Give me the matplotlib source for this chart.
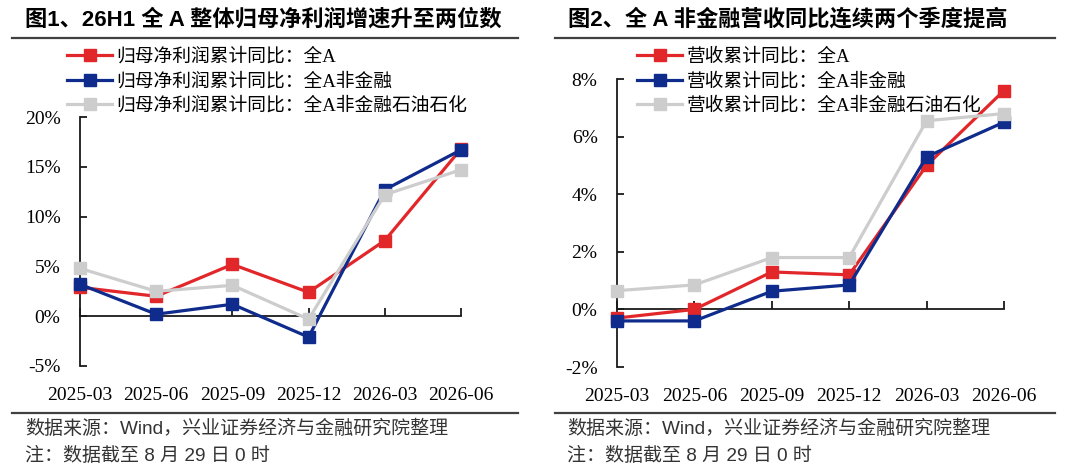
import matplotlib
matplotlib.use('Agg')
import matplotlib.pyplot as plt
from matplotlib.lines import Line2D

plt.rcParams['font.family'] = ['Liberation Serif', 'Noto Sans CJK SC']

W, H = 1080, 476

quarters = ['2025-03', '2025-06', '2025-09', '2025-12', '2026-03', '2026-06']

# 图1 归母净利润累计同比 (%)
profit_all = [2.9, 2.0, 5.2, 2.4, 7.6, 16.8]
profit_nonfin = [3.2, 0.2, 1.2, -2.1, 12.7, 16.7]
profit_nonfin_ex_oil = [4.8, 2.5, 3.1, -0.3, 12.2, 14.7]
profit_labels = ['归母净利润累计同比：全A', '归母净利润累计同比：全A非金融',
                 '归母净利润累计同比：全A非金融石油石化']

# 图2 营收累计同比 (%)
rev_all = [-0.3, 0.0, 1.3, 1.2, 5.0, 7.6]
rev_nonfin = [-0.4, -0.4, 0.63, 0.85, 5.3, 6.5]
rev_nonfin_ex_oil = [0.65, 0.85, 1.8, 1.8, 6.55, 6.8]
rev_labels = ['营收累计同比：全A', '营收累计同比：全A非金融', '营收累计同比：全A非金融石油石化']

colors = ['#E2272B', '#0F2B8C', '#CDCDCD']
sans = ['Liberation Sans', 'Noto Sans CJK SC']
serif_cjk = ['Liberation Serif', 'Noto Sans CJK SC']

fig = plt.figure(figsize=(W / 100, H / 100), dpi=100)


def px_rect(x0, x1, y_top, y_bot):
    return [x0 / W, 1 - y_bot / H, (x1 - x0) / W, (y_bot - y_top) / H]


def draw_panel(rect, series, labels, yticks, leg_xy):
    ax = fig.add_axes(rect)
    x = list(range(len(quarters)))
    for vals, lab, c in zip(series, labels, colors):
        ax.plot(x, vals, color=c, lw=2.3, marker='s', markersize=8,
                label=lab, clip_on=False, zorder=3)
    ax.set_xlim(0, len(quarters) - 1)
    ax.set_ylim(yticks[0], yticks[-1])
    ax.set_yticks(yticks)
    ax.set_yticklabels([f'{v}%' for v in yticks])
    for s in ['top', 'right']:
        ax.spines[s].set_visible(False)
    ax.spines['bottom'].set_position(('data', 0))
    for s in ['left', 'bottom']:
        ax.spines[s].set_linewidth(1.3)
        ax.spines[s].set_color('#1a1a1a')
    ax.set_xticks(x)
    ax.tick_params(axis='x', direction='in', length=6, width=1.3,
                   color='#1a1a1a', labelbottom=False)
    ax.tick_params(axis='y', direction='in', length=5, width=1.3,
                   color='#1a1a1a', labelsize=14, pad=14)
    sec = ax.secondary_xaxis('bottom')
    sec.spines['bottom'].set_visible(False)
    sec.set_xticks(x)
    sec.set_xticklabels(quarters)
    sec.tick_params(length=0, labelsize=14, pad=15)
    ax.legend(loc='upper left', bbox_to_anchor=leg_xy, bbox_transform=fig.transFigure,
              frameon=False, prop={'family': serif_cjk, 'size': 13.5},
              handlelength=2.4, handletextpad=0.25, labelspacing=0.38,
              borderpad=0, borderaxespad=0)
    return ax


draw_panel(px_rect(80, 461, 117, 366),
           [profit_all, profit_nonfin, profit_nonfin_ex_oil], profit_labels,
           [-5, 0, 5, 10, 15, 20], (67 / W, 1 - 48 / H))
draw_panel(px_rect(617, 1004, 79, 367),
           [rev_all, rev_nonfin, rev_nonfin_ex_oil], rev_labels,
           [-2, 0, 2, 4, 6, 8], (637 / W, 1 - 48 / H))

titles = [(25, '图1、26H1 全 A 整体归母净利润增速升至两位数'),
          (568, '图2、全 A 非金融营收同比连续两个季度提高')]
for x0, t in titles:
    fig.text(x0 / W, 1 - 20 / H, t, fontsize=16, fontweight='bold',
             family=sans, va='center', ha='left')

for x0, x1 in [(12, 518), (555, 1055)]:
    for yy in (38, 413):
        fig.add_artist(Line2D([x0 / W, x1 / W], [1 - yy / H] * 2,
                              color='#404040', lw=1.6))

for x0 in (25, 567):
    fig.text(x0 / W, 1 - 429 / H, '数据来源：Wind，兴业证券经济与金融研究院整理',
             fontsize=13.7, color='#333333', family=sans, va='center')
    fig.text(x0 / W, 1 - 456 / H, '注：数据截至 8 月 29 日 0 时',
             fontsize=13.7, color='#333333', family=sans, va='center')

fig.savefig('out.png', dpi=100)
